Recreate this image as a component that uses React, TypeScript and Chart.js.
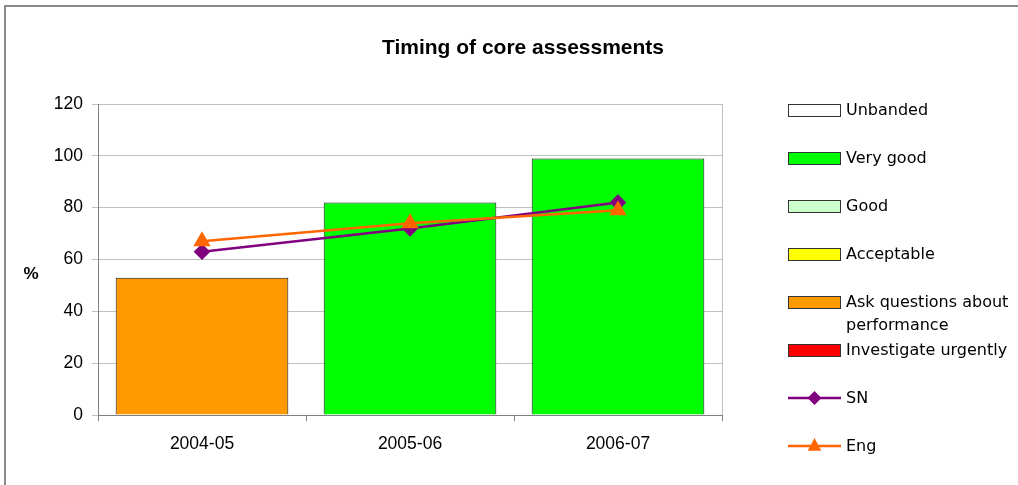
import React, { useEffect, useRef } from "react";
import { Chart, registerables } from "chart.js";

Chart.register(...registerables);

const categories = ["2004-05", "2005-06", "2006-07"];
const unbanded = [null, null, null];
const veryGood = [null, 82, 99];
const good = [null, null, null];
const acceptable = [null, null, null];
const askQuestions = [53, null, null];
const investigateUrgently = [null, null, null];
const snValues = [63, 72, 82];
const engValues = [67, 74, 79];
const yTicks = [0, 20, 40, 60, 80, 100, 120];
const chartTitle = "Timing of core assessments";
const yTitle = "%";

const AXIS_FONT = "'Liberation Sans', Arial, sans-serif";
const LEGEND_FONT = "'DejaVu Sans', Verdana, sans-serif";

function wrapText(ctx: CanvasRenderingContext2D, text: string, maxW: number): string[] {
  const words = text.split(" ");
  const lines: string[] = [];
  let cur = "";
  for (const w of words) {
    const t = cur ? cur + " " + w : w;
    if (ctx.measureText(t).width > maxW && cur) {
      lines.push(cur);
      cur = w;
    } else cur = t;
  }
  if (cur) lines.push(cur);
  return lines;
}

const decorPlugin = {
  id: "decor",
  beforeDraw(chart: any) {
    const ctx = chart.ctx as CanvasRenderingContext2D;
    ctx.save();
    ctx.fillStyle = "#ffffff";
    ctx.fillRect(0, 0, chart.width, chart.height);
    ctx.strokeStyle = "#8a8a8a";
    ctx.lineWidth = 2;
    ctx.strokeRect(5, 6, chart.width + 50, chart.height + 50);
    ctx.restore();
  },
  beforeDatasetsDraw(chart: any) {
    const ctx = chart.ctx as CanvasRenderingContext2D;
    const a = chart.chartArea;
    ctx.save();
    ctx.strokeStyle = "#c0c0c0";
    ctx.lineWidth = 1;
    ctx.beginPath();
    ctx.moveTo(Math.round(a.right) + 0.5, a.top);
    ctx.lineTo(Math.round(a.right) + 0.5, a.bottom);
    ctx.stroke();
    ctx.restore();
  },
  afterDraw(chart: any) {
    const ctx = chart.ctx as CanvasRenderingContext2D;
    const a = chart.chartArea;
    ctx.save();
    // title
    ctx.fillStyle = "#000";
    ctx.font = `bold 21px ${AXIS_FONT}`;
    ctx.textAlign = "center";
    ctx.textBaseline = "middle";
    ctx.fillText(chartTitle, 523, 48);
    // y title
    ctx.font = `bold 17px ${AXIS_FONT}`;
    ctx.fillText(yTitle, 31, (a.top + a.bottom) / 2 + 15);
    // legend
    ctx.font = `16px ${LEGEND_FONT}`;
    ctx.textAlign = "left";
    const x0 = 788;
    const boxW = 52;
    chart.data.datasets.forEach((ds: any, i: number) => {
      const y = 110 + i * 48;
      if (ds.type === "line") {
        ctx.strokeStyle = ds.borderColor;
        ctx.lineWidth = 2.5;
        ctx.beginPath();
        ctx.moveTo(x0, y);
        ctx.lineTo(x0 + boxW + 1, y);
        ctx.stroke();
        const cx = x0 + boxW / 2 + 0.5;
        ctx.fillStyle = ds.pointBackgroundColor;
        ctx.beginPath();
        if (ds.pointStyle === "rectRot") {
          const r = 7;
          ctx.moveTo(cx, y - r);
          ctx.lineTo(cx + r, y);
          ctx.lineTo(cx, y + r);
          ctx.lineTo(cx - r, y);
        } else {
          const r = 8;
          ctx.moveTo(cx, y - r);
          ctx.lineTo(cx + r * 0.85, y + r * 0.6);
          ctx.lineTo(cx - r * 0.85, y + r * 0.6);
        }
        ctx.closePath();
        ctx.fill();
      } else {
        ctx.fillStyle = ds.backgroundColor;
        ctx.fillRect(x0, y - 6, boxW, 12);
        ctx.strokeStyle = "#333333";
        ctx.lineWidth = 1;
        ctx.strokeRect(x0 + 0.5, y - 5.5, boxW, 12);
      }
      ctx.fillStyle = "#000";
      const lines = wrapText(ctx, ds.label, 170);
      lines.forEach((ln, k) => ctx.fillText(ln, 846, y + 1 + k * 23));
    });
    ctx.restore();
  },
};

export default function App() {
  const canvasRef = useRef<HTMLCanvasElement | null>(null);

  useEffect(() => {
    if (!canvasRef.current) return;
    const barCommon = {
      type: "bar" as const,
      grouped: false,
      barPercentage: 0.83,
      categoryPercentage: 1,
      borderColor: "#1a1a1a",
      borderWidth: 1,
      order: 3,
    };
    const chart = new Chart(canvasRef.current, {
      type: "bar",
      data: {
        labels: categories,
        datasets: [
          { ...barCommon, label: "Unbanded", data: unbanded, backgroundColor: "#ffffff" },
          { ...barCommon, label: "Very good", data: veryGood, backgroundColor: "#00ff00" },
          { ...barCommon, label: "Good", data: good, backgroundColor: "#ccffcc" },
          { ...barCommon, label: "Acceptable", data: acceptable, backgroundColor: "#ffff00" },
          { ...barCommon, label: "Ask questions about performance", data: askQuestions, backgroundColor: "#ff9900" },
          { ...barCommon, label: "Investigate urgently", data: investigateUrgently, backgroundColor: "#ff0000" },
          {
            type: "line",
            label: "SN",
            data: snValues,
            borderColor: "#800080",
            backgroundColor: "#800080",
            pointBackgroundColor: "#800080",
            pointBorderColor: "#800080",
            pointStyle: "rectRot",
            pointRadius: 6.5,
            borderWidth: 2.5,
            tension: 0,
            order: 2,
          },
          {
            type: "line",
            label: "Eng",
            data: engValues,
            borderColor: "#ff6600",
            backgroundColor: "#ff6600",
            pointBackgroundColor: "#ff6600",
            pointBorderColor: "#ff6600",
            pointStyle: "triangle",
            pointRadius: 7.5,
            borderWidth: 2.5,
            tension: 0,
            order: 1,
          },
        ] as any,
      },
      options: {
        animation: false,
        responsive: false,
        layout: { padding: { left: 0, top: 104, right: 296, bottom: 0 } },
        plugins: {
          legend: { display: false },
          title: { display: false },
          tooltip: { enabled: false },
        },
        scales: {
          x: {
            grid: {
              drawOnChartArea: false,
              drawTicks: true,
              tickLength: 6,
              color: "#808080",
              offset: true,
            },
            border: { color: "#808080" },
            ticks: {
              font: { family: AXIS_FONT, size: 17.5 },
              color: "#000",
              padding: 13,
              maxRotation: 0,
            },
            afterFit: (s: any) => {
              s.height = 70;
            },
          },
          y: {
            min: 0,
            max: 120,
            grid: { color: "#c0c0c0", tickLength: 6, drawTicks: true },
            border: { color: "#808080" },
            ticks: {
              font: { family: AXIS_FONT, size: 17.5 },
              color: "#000",
              padding: 9,
            },
            afterBuildTicks: (s: any) => {
              s.ticks = yTicks.map((v) => ({ value: v }));
            },
            afterFit: (s: any) => {
              s.width = 98;
            },
          },
        },
      },
      plugins: [decorPlugin],
    });
    return () => chart.destroy();
  }, []);

  return (
    <div style={{ position: "absolute", left: 0, top: 0, width: 1018, height: 485 }}>
      <canvas ref={canvasRef} width={1018} height={485} />
    </div>
  );
}
